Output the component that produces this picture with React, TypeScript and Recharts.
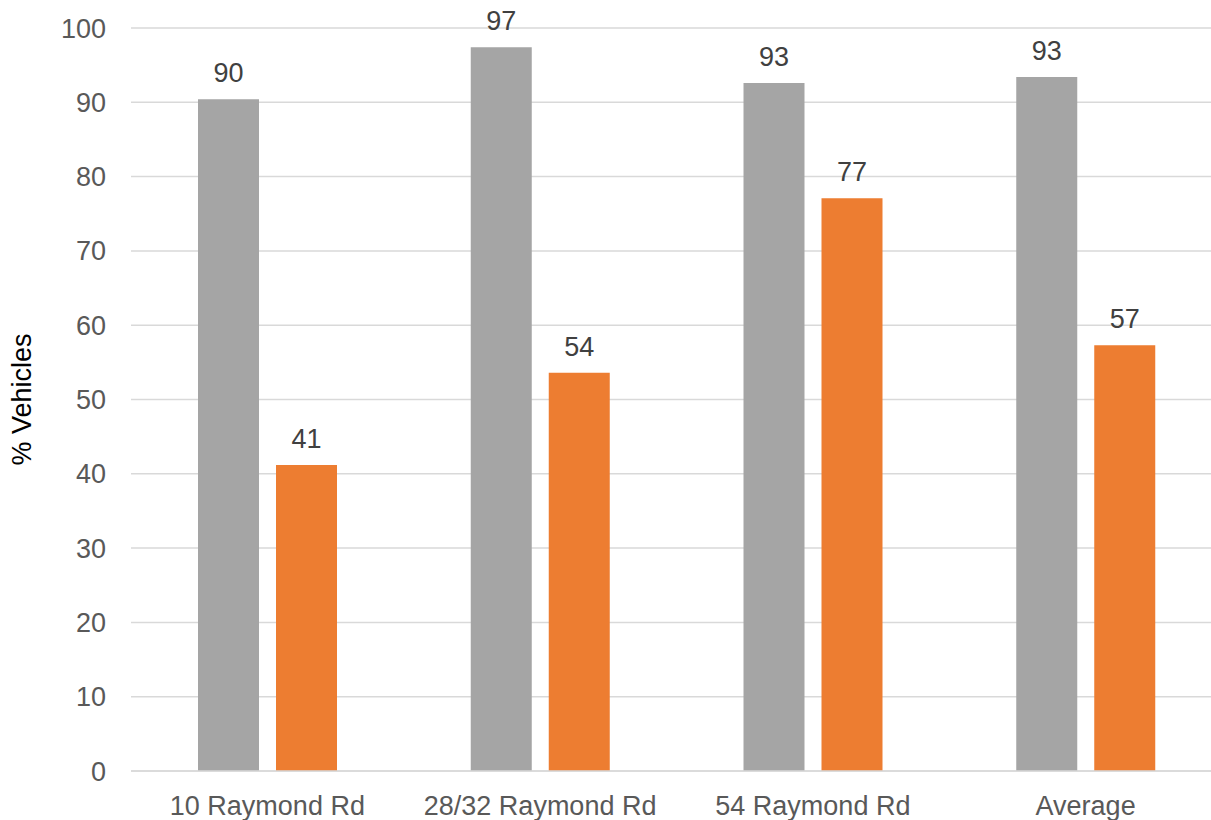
import React from "react"
import { BarChart, Bar, XAxis, YAxis, CartesianGrid, LabelList, Label } from "recharts"

const categories = ["10 Raymond Rd", "28/32 Raymond Rd", "54 Raymond Rd", "Average"]
const grayValues = [90.4, 97.4, 92.6, 93.4]
const orangeValues = [41.2, 53.6, 77.1, 57.3]
const yTicks = [0, 10, 20, 30, 40, 50, 60, 70, 80, 90, 100]

const data = categories.map((name, i) => ({
  name,
  gray: grayValues[i],
  orange: orangeValues[i],
}))

const FONT = "'Liberation Sans', Arial, sans-serif"
const FS = 27

const YTitle = (props: any) => {
  const { viewBox } = props
  const cx = 22
  const cy = viewBox.y + viewBox.height / 2
  return (
    <text
      x={cx}
      y={cy}
      transform={`rotate(-90, ${cx}, ${cy})`}
      textAnchor="middle"
      dominantBaseline="central"
      fontSize={FS}
      fontFamily={FONT}
      fill="#000"
    >
      % Vehicles
    </text>
  )
}

export default function App() {
  const round = (v: any) => Math.round(Number(v))

  return (
    <div
      style={{
        position: "absolute",
        left: 0,
        top: 0,
        width: 1211,
        height: 820,
        overflow: "hidden",
        background: "#fff",
      }}
    >
      <BarChart
        width={1230}
        height={820}
        data={data}
        margin={{ top: 28, right: 8, bottom: 0, left: 0 }}
        barSize={61}
        barGap={17}
      >
        <CartesianGrid vertical={false} stroke="#D9D9D9" strokeWidth={1.5} />
        <XAxis
          dataKey="name"
          axisLine={{ stroke: "#D9D9D9", strokeWidth: 1.5 }}
          tickLine={false}
          tickMargin={19}
          tick={{ fill: "#595959", fontSize: FS, fontFamily: FONT }}
          height={49}
        />
        <YAxis
          domain={[0, 100]}
          ticks={yTicks}
          width={131}
          axisLine={false}
          tickLine={false}
          tickMargin={19}
          tick={{ fill: "#595959", fontSize: FS, fontFamily: FONT }}
        >
          <Label content={<YTitle />} />
        </YAxis>
        <Bar dataKey="gray" fill="#A5A5A5" isAnimationActive={false}>
          <LabelList
            dataKey="gray"
            position="top"
            offset={17}
            formatter={round}
            fill="#404040"
            fontSize={FS}
            fontFamily={FONT}
          />
        </Bar>
        <Bar dataKey="orange" fill="#ED7D31" isAnimationActive={false}>
          <LabelList
            dataKey="orange"
            position="top"
            offset={17}
            formatter={round}
            fill="#404040"
            fontSize={FS}
            fontFamily={FONT}
          />
        </Bar>
      </BarChart>
    </div>
  )
}
